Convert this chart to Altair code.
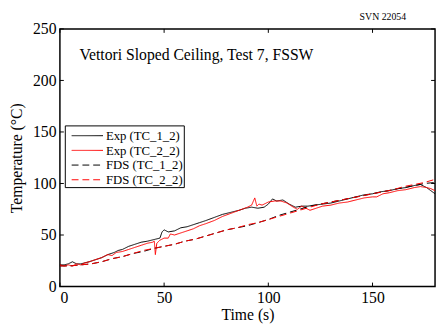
import altair as alt
import pandas as pd

# ---- data ----
series_names = ["Exp (TC_1_2)", "Exp (TC_2_2)", "FDS (TC_1_2)", "FDS (TC_2_2)"]
series_colors = ["#000000", "#ff0000", "#000000", "#ff0000"]
series_dashes = [[1, 0], [1, 0], [7, 4], [7, 4]]

exp1_t = [0, 2, 4, 6, 8, 10, 12, 14, 17, 20, 23, 26, 28, 30, 33, 36, 39, 42, 44, 46,
          48, 49, 50, 52, 55, 58, 61, 64, 67, 70, 74, 78, 82, 86, 89, 92, 95, 98, 100, 102,
          104, 107, 110, 113, 116, 119, 122, 126, 130, 134, 138, 142, 146, 150, 154, 158, 162, 166, 170, 173,
          176, 178, 180]
exp1_v = [21, 21, 22, 24, 22, 22, 23, 24, 26, 28, 31, 33, 35, 36, 39, 41, 43, 44, 45, 46,
          47, 53, 55, 53, 54, 57, 58, 60, 62, 64, 67, 70, 72, 74, 76, 77, 76, 77, 80, 85,
          83, 84, 80, 77, 78, 78, 79, 80, 81, 83, 85, 87, 89, 90, 92, 93, 95, 96, 98, 99,
          96, 93, 90]

exp2_t = [0, 2, 4, 6, 8, 10, 12, 14, 17, 20, 23, 25, 27, 30, 33, 36, 39, 42, 44.5, 45.3,
          45.8, 46.5, 48, 50, 52, 53, 55, 58, 61, 64, 67, 70, 74, 78, 82, 86, 90, 92, 93.5, 94.5,
          95.5, 97, 100, 103, 106, 109, 112, 114, 116, 118, 120, 123, 126, 130, 134, 138, 142, 146, 150, 152,
          155, 158, 162, 166, 170, 173, 176, 178, 180]
exp2_v = [21, 20, 21, 20, 22, 21, 23, 24, 26, 28, 31, 30, 33, 34, 36, 38, 40, 42, 43, 44,
          31, 42, 45, 47, 47, 51, 50, 52, 54, 56, 59, 61, 64, 68, 71, 74, 77, 79, 86, 78,
          80, 79, 82, 83, 83, 81, 77, 75, 78, 76, 74, 76, 78, 79, 81, 82, 84, 86, 87, 87,
          90, 91, 93, 94, 96, 97, 96, 95, 93]

fds_t = [0, 5, 10, 15, 20, 25, 30, 35, 40, 45, 50, 55, 60, 65, 70, 75, 80, 85, 90, 95,
         100, 105, 110, 115, 120, 125, 130, 135, 140, 145, 150, 155, 160, 165, 170, 175, 180]
fds1_v = [20, 20, 21, 22, 24, 27, 29, 32, 34, 37, 39, 41, 44, 46, 49, 52, 55, 57, 59, 62,
          65, 69, 72, 75, 78, 80, 82, 84, 86, 88, 90, 92, 94, 96, 98, 100, 101]
fds2_v = [20, 20, 21, 22, 24, 27, 29, 32, 35, 37, 39, 41, 44, 46, 49, 52, 55, 57, 60, 62,
          65, 68, 71, 74, 77, 80, 82, 84, 86, 88, 90, 92, 94, 97, 99, 101, 104]

x_ticks = [0, 50, 100, 150]
y_ticks = [0, 50, 100, 150, 200, 250]

plot_title = "Vettori Sloped Ceiling, Test 7, FSSW"
corner_note = "SVN 22054"

# ---- build ----
frames = []
for name, t, v in [(series_names[0], exp1_t, exp1_v), (series_names[1], exp2_t, exp2_v),
                   (series_names[2], fds_t, fds1_v), (series_names[3], fds_t, fds2_v)]:
    frames.append(pd.DataFrame({"t": t, "v": v, "series": name}))
df = pd.concat(frames, ignore_index=True)

W, H = 383, 263
FONT = "Liberation Serif"
TL = 4

x_scale = alt.Scale(domain=[0, 180], nice=False, zero=False)
y_scale = alt.Scale(domain=[0, 250], nice=False, zero=False)
x_axis = alt.Axis(values=x_ticks, title="Time (s)", labelPadding=3, titlePadding=2)
y_axis = alt.Axis(values=y_ticks, title="Temperature (°C)", labelPadding=4, titlePadding=8)

lines = alt.Chart(df).mark_line(strokeWidth=1, clip=True).encode(
    x=alt.X("t:Q", scale=x_scale, axis=x_axis),
    y=alt.Y("v:Q", scale=y_scale, axis=y_axis),
    color=alt.Color("series:N", scale=alt.Scale(domain=series_names, range=series_colors), legend=None),
    strokeDash=alt.StrokeDash("series:N", scale=alt.Scale(domain=series_names, range=series_dashes), legend=None),
)

xt = pd.DataFrame({"t": x_ticks})
yt = pd.DataFrame({"v": y_ticks})
xtick_b = alt.Chart(xt).mark_rule(color="black", strokeWidth=1).encode(
    x=alt.X("t:Q", scale=x_scale, axis=x_axis), y=alt.value(H), y2=alt.value(H - TL))
xtick_t = alt.Chart(xt).mark_rule(color="black", strokeWidth=1).encode(
    x=alt.X("t:Q", scale=x_scale, axis=x_axis), y=alt.value(0), y2=alt.value(TL))
ytick_l = alt.Chart(yt).mark_rule(color="black", strokeWidth=1).encode(
    y=alt.Y("v:Q", scale=y_scale, axis=y_axis), x=alt.value(0), x2=alt.value(TL))
ytick_r = alt.Chart(yt).mark_rule(color="black", strokeWidth=1).encode(
    y=alt.Y("v:Q", scale=y_scale, axis=y_axis), x=alt.value(W), x2=alt.value(W - TL))

dummy = pd.DataFrame({"a": [0]})
title_txt = alt.Chart(dummy).mark_text(
    align="left", baseline="alphabetic", font=FONT, fontSize=16, color="black"
).encode(x=alt.value(20), y=alt.value(32), text=alt.value(plot_title))
note_txt = alt.Chart(dummy).mark_text(
    align="left", baseline="middle", font=FONT, fontSize=10, color="black"
).encode(x=alt.value(306), y=alt.value(-12), text=alt.value(corner_note))

legend_layers = [
    alt.Chart(dummy).mark_rect(fill="white", stroke="black", strokeWidth=1).encode(
        x=alt.value(5.5), x2=alt.value(127), y=alt.value(99), y2=alt.value(162))
]
row_y = [109, 124, 139, 154]
for i, name in enumerate(series_names):
    legend_layers.append(
        alt.Chart(dummy).mark_rule(color=series_colors[i], strokeWidth=1,
                                   strokeDash=series_dashes[i]).encode(
            x=alt.value(12), x2=alt.value(44), y=alt.value(row_y[i])))
    legend_layers.append(
        alt.Chart(dummy).mark_text(align="left", baseline="middle", font=FONT,
                                   fontSize=13, color="black").encode(
            x=alt.value(47), y=alt.value(row_y[i] + 0.5), text=alt.value(name)))

chart = alt.layer(
    lines, xtick_b, xtick_t, ytick_l, ytick_r, title_txt, note_txt, *legend_layers
).properties(
    width=W, height=H,
    autosize=alt.AutoSizeParams(type="none"),
    padding={"left": 53, "top": 18, "right": 2, "bottom": 40},
).configure_view(
    stroke="black", strokeWidth=1.5
).configure_axis(
    grid=False, domain=False, ticks=False,
    labelFont=FONT, labelFontSize=16, labelColor="black",
    titleFont=FONT, titleFontSize=16, titleFontWeight="normal", titleColor="black",
)

chart.save("out.html", embed_options={"renderer": "svg", "actions": False})
